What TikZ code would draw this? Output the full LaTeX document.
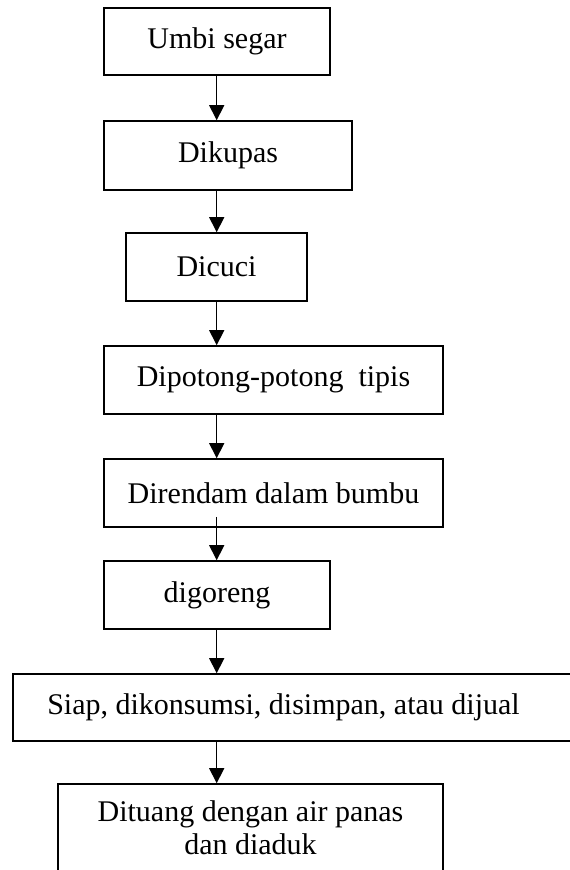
\documentclass[tikz,border=0pt]{standalone}
\usepackage{fontspec}
\setmainfont{Liberation Serif}
\usetikzlibrary{arrows.meta}
\begin{document}
\begin{tikzpicture}[x=1pt,y=-1pt,
  stepbox/.style={draw, line width=1.6pt, rectangle, inner sep=0pt, font=\fontsize{30}{33}\selectfont},
  plain/.style={inner sep=0pt, align=center, font=\fontsize{30}{33}\selectfont},
  flow/.style={line width=1.4pt, -{Triangle[width=15pt,length=15pt]}}]
  \useasboundingbox (0,0) rectangle (570,870);
  \clip (0,0) rectangle (570,870);
  % common vertical axis of the arrows
  \coordinate (ax) at (216.7,0);

  % process steps
  \node[stepbox, minimum width=226pt, minimum height=67pt] (n1) at (217,41.5) {Umbi segar};
  \node[stepbox, minimum width=248pt, minimum height=69pt] (n2) at (228,155.5) {Dikupas};
  \node[stepbox, minimum width=181pt, minimum height=68pt] (n3) at (216.5,267) {Dicuci};
  \node[stepbox, minimum width=339pt, minimum height=68pt] (n4) at (273.5,380) {Dipotong-potong\ \ tipis};
  \node[stepbox, minimum width=339pt, minimum height=68pt] (n5) at (273.5,493) {Direndam dalam bumbu};
  \node[stepbox, minimum width=226pt, minimum height=68pt] (n6) at (217,595) {digoreng};
  \node[stepbox, minimum width=572pt, minimum height=67pt] (n7) at (299,707.5) {};
  \node[plain] (t7) at (283.5,707.5) {Siap, dikonsumsi, disimpan, atau dijual};
  \node[stepbox, minimum width=385pt, minimum height=106pt] (n8) at (250.5,837) {};
  \node[plain, anchor=north] (t8) at (250.5,800) {Dituang dengan air panas\\dan diaduk};

  % connectors
  \draw[flow] (n1.south -| ax) -- (n2.north -| ax);
  \draw[flow] (n2.south -| ax) -- (n3.north -| ax);
  \draw[flow] (n3.south -| ax) -- (n4.north -| ax);
  \draw[flow] (n4.south -| ax) -- (n5.north -| ax);
  \draw[flow] ([yshift=11pt]n5.south -| ax) -- (n6.north -| ax);
  \draw[flow] (n6.south -| ax) -- (n7.north -| ax);
  \draw[flow] (n7.south -| ax) -- (n8.north -| ax);
\end{tikzpicture}
\end{document}
